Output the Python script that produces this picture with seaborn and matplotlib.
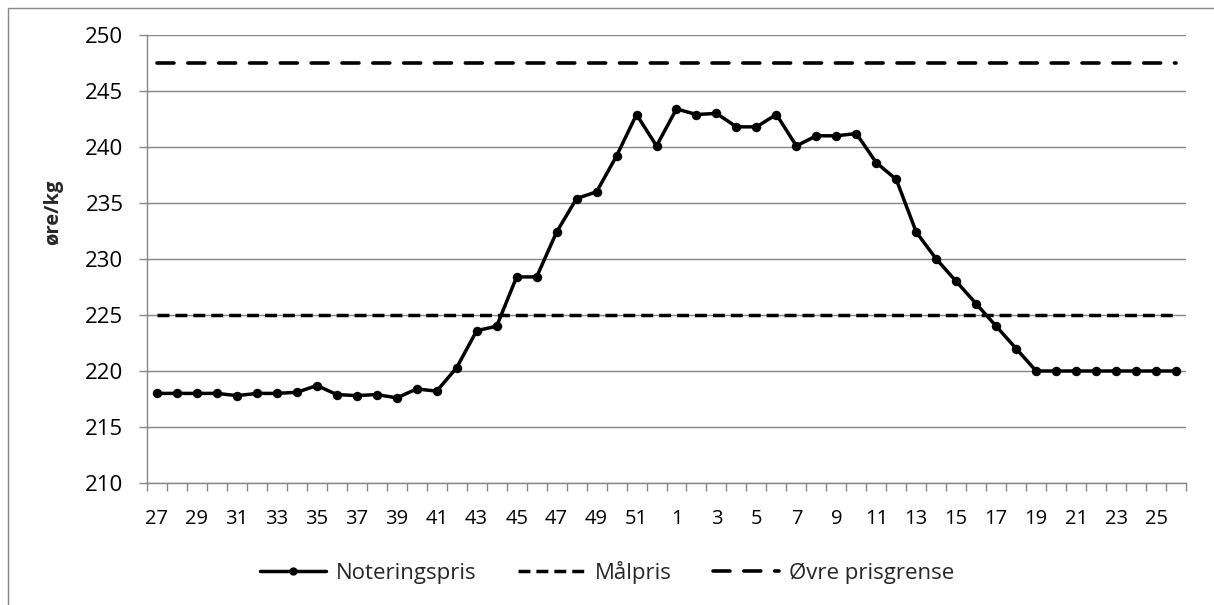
import numpy as np
import pandas as pd
import matplotlib
matplotlib.use("Agg")
import matplotlib.pyplot as plt
import seaborn as sns
from matplotlib.lines import Line2D
from matplotlib.patches import Rectangle

weeks = list(range(27, 53)) + list(range(1, 27))
noteringspris = [218.0, 218.0, 218.0, 218.0, 217.8, 218.0, 218.0, 218.1, 218.7, 217.9,
                 217.8, 217.9, 217.6, 218.4, 218.2, 220.3, 223.6, 224.0, 228.4, 228.4,
                 232.4, 235.4, 236.0, 239.2, 242.9, 240.1,
                 243.4, 242.9, 243.0, 241.8, 241.8, 242.9, 240.1, 241.0, 241.0, 241.2,
                 238.6, 237.1, 232.4, 230.0, 228.0, 226.0, 224.0, 222.0, 220.0, 220.0,
                 220.0, 220.0, 220.0, 220.0, 220.0, 220.0]
maalpris = [225.0] * 52
ovre_prisgrense = [247.5] * 52
y_ticks = [210, 215, 220, 225, 230, 235, 240, 245, 250]

sns.set_theme(style="white")
plt.rcParams['font.family'] = ['Open Sans', 'DejaVu Sans']
plt.rcParams['lines.scale_dashes'] = False

W, H = 1214, 605
fig = plt.figure(figsize=(W / 100, H / 100), dpi=100)
ax = fig.add_axes([147 / W, 1 - 483 / H, (1186 - 147) / W, (483 - 35) / H])

df = pd.DataFrame({"idx": np.arange(len(weeks)), "week": weeks,
                   "Noteringspris": noteringspris, "Målpris": maalpris,
                   "Øvre prisgrense": ovre_prisgrense})

grid_c = "#868686"
for yv in y_ticks:
    ax.axhline(yv, color=grid_c, lw=1.0, zorder=0)

sns.lineplot(data=df, x="idx", y="Noteringspris", ax=ax, color="black",
             lw=2.5, marker="o", markersize=6.8, markeredgewidth=0,
             label="Noteringspris", zorder=4)
sns.lineplot(data=df, x="idx", y="Målpris", ax=ax, color="black",
             lw=2.5, label="Målpris", zorder=3)
sns.lineplot(data=df, x="idx", y="Øvre prisgrense", ax=ax, color="black",
             lw=2.6, label="Øvre prisgrense", zorder=3)
for l in ax.get_lines():
    if l.get_label() == "Målpris":
        l.set_dashes((8.6, 4.3))
    elif l.get_label() == "Øvre prisgrense":
        l.set_dashes((12.2, 10.0))
        l.set_dash_capstyle("round")

ax.set_xlim(-0.5, len(weeks) - 0.5)
ax.set_ylim(210, 250)
ax.set_yticks(y_ticks)
ax.set_yticklabels([str(v) for v in y_ticks])
ax.set_xticks(np.arange(0, len(weeks), 2))
ax.set_xticklabels([str(weeks[i]) for i in range(0, len(weeks), 2)])
ax.set_xticks(np.arange(-0.5, len(weeks), 1), minor=True)
ax.tick_params(axis="x", which="major", length=0, pad=19, labelsize=14.5, colors="black")
ax.tick_params(axis="x", which="minor", length=6, width=1.0, color=grid_c, bottom=True)
ax.tick_params(axis="y", which="major", length=5.5, width=1.0, color=grid_c, left=True,
               pad=11.5, labelsize=16, labelcolor="black")
ax.xaxis.set_tick_params(which="minor", direction="out")

for s in ["top", "right"]:
    ax.spines[s].set_visible(False)
for s in ["left", "bottom"]:
    ax.spines[s].set_color(grid_c)
    ax.spines[s].set_linewidth(1.0)

ax.set_xlabel("")
ax.set_ylabel("øre/kg", fontsize=14.5, fontweight="bold")
ax.yaxis.set_label_coords(-0.081, 0.605)

handles = [
    Line2D([], [], color="black", lw=2.5, marker="o", markersize=6, markeredgewidth=0),
    Line2D([], [], color="black", lw=2.5, dashes=(8.6, 4.3)),
    Line2D([], [], color="black", lw=2.6, dashes=(12.2, 10.0), dash_capstyle="round"),
]
if ax.get_legend() is not None:
    ax.get_legend().remove()
fig.legend(handles, ["Noteringspris", "Målpris", "Øvre prisgrense"],
           loc="center", bbox_to_anchor=(0.5, 1 - 572 / H), ncol=3, frameon=False,
           fontsize=16, handlelength=3.0, handletextpad=0.45, columnspacing=1.85)

fig.patches.append(Rectangle((8 / W, -0.1), 1.2, 1 - 8 / H + 0.1, transform=fig.transFigure,
                             fill=False, edgecolor="#898989", lw=1.0))

fig.savefig("out.png", dpi=100)
